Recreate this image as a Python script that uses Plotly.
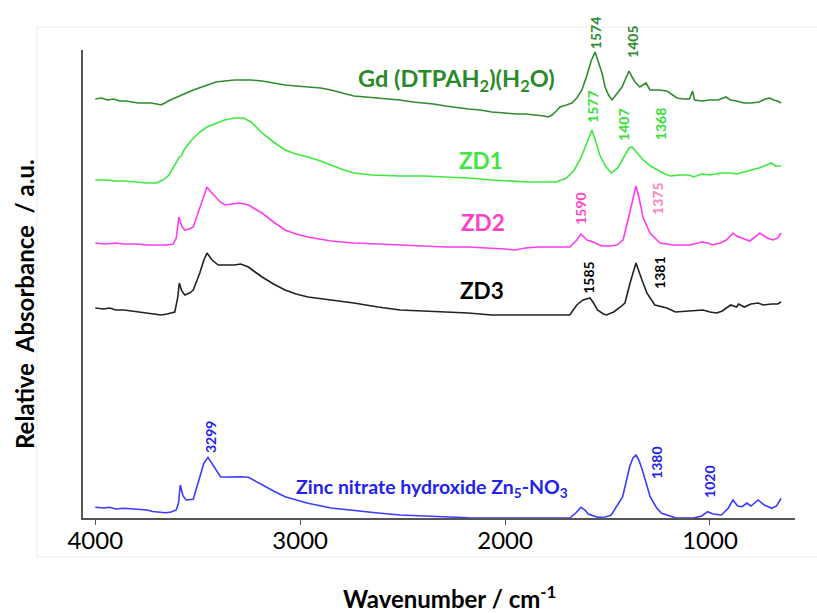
import plotly.graph_objects as go

# ---------------- data (wavenumber in cm-1, relative absorbance in a.u., offsets included) -------------
gd_wn = [4000, 3970, 3940, 3910, 3880, 3850, 3820, 3790, 3760, 3730, 3700, 3680, 3660, 3635, 3600, 3560,
         3522, 3480, 3440, 3410, 3370, 3321, 3280, 3240, 3186, 3130, 3074, 3020, 2962, 2900, 2850, 2800,
         2738, 2680, 2620, 2560, 2513, 2450, 2400, 2350, 2289, 2230, 2180, 2120, 2065, 2000, 1950, 1900,
         1841, 1810, 1790, 1771, 1750, 1732, 1700, 1674, 1650, 1625, 1600, 1580, 1561, 1545, 1527, 1512,
         1495, 1478, 1455, 1429, 1410, 1395, 1380, 1366, 1342, 1312, 1293, 1250, 1210, 1161, 1130, 1100,
         1085, 1075, 1040, 1000, 960, 940, 922, 900, 870, 834, 800, 760, 730, 709, 690, 670, 653]
gd_ab = [4.19, 4.20, 4.18, 4.19, 4.17, 4.17, 4.16, 4.15, 4.15, 4.15, 4.14, 4.13, 4.15, 4.18, 4.21, 4.25,
         4.28, 4.31, 4.34, 4.36, 4.37, 4.38, 4.38, 4.38, 4.37, 4.35, 4.33, 4.32, 4.31, 4.30, 4.28, 4.25,
         4.22, 4.21, 4.20, 4.19, 4.18, 4.16, 4.15, 4.14, 4.12, 4.10, 4.09, 4.08, 4.06, 4.05, 4.04, 4.04,
         4.03, 4.02, 4.01, 4.03, 4.07, 4.11, 4.13, 4.15, 4.20, 4.28, 4.43, 4.57, 4.66, 4.56, 4.45, 4.31,
         4.23, 4.18, 4.24, 4.31, 4.40, 4.47, 4.41, 4.36, 4.31, 4.35, 4.28, 4.28, 4.27, 4.20, 4.19, 4.19,
         4.27, 4.18, 4.17, 4.18, 4.18, 4.20, 4.21, 4.18, 4.17, 4.15, 4.15, 4.16, 4.19, 4.20, 4.18, 4.17, 4.15]

zd1_wn = [4000, 3950, 3900, 3859, 3800, 3750, 3702, 3670, 3640, 3615, 3600, 3590, 3580, 3567, 3530, 3490,
          3455, 3410, 3370, 3321, 3276, 3240, 3186, 3130, 3074, 3020, 2962, 2900, 2850, 2800, 2738, 2650,
          2513, 2400, 2289, 2180, 2065, 1970, 1886, 1800, 1751, 1700, 1662, 1630, 1600, 1576, 1555, 1538,
          1510, 1482, 1450, 1420, 1395, 1381, 1360, 1325, 1290, 1258, 1220, 1191, 1150, 1101, 1080, 1040,
          1000, 944, 900, 870, 832, 790, 760, 723, 700, 680, 653]
zd1_ab = [3.38, 3.38, 3.37, 3.37, 3.36, 3.35, 3.35, 3.38, 3.43, 3.52, 3.58, 3.61, 3.62, 3.68, 3.78, 3.86,
          3.91, 3.95, 3.98, 4.00, 4.00, 3.96, 3.85, 3.76, 3.68, 3.64, 3.61, 3.57, 3.53, 3.49, 3.45, 3.43,
          3.42, 3.42, 3.41, 3.40, 3.38, 3.37, 3.36, 3.36, 3.36, 3.40, 3.48, 3.60, 3.75, 3.88, 3.75, 3.63,
          3.52, 3.45, 3.50, 3.61, 3.70, 3.71, 3.66, 3.58, 3.52, 3.48, 3.44, 3.42, 3.43, 3.43, 3.41, 3.44,
          3.43, 3.45, 3.45, 3.44, 3.46, 3.48, 3.50, 3.53, 3.55, 3.52, 3.52]

zd2_wn = [4000, 3950, 3900, 3859, 3800, 3750, 3702, 3650, 3620, 3605, 3592, 3578, 3563, 3540, 3522, 3490,
          3470, 3455, 3435, 3410, 3390, 3366, 3330, 3298, 3270, 3253, 3220, 3186, 3130, 3074, 3020, 2962,
          2850, 2738, 2620, 2513, 2400, 2289, 2180, 2065, 2000, 1953, 1900, 1841, 1760, 1684, 1650, 1630,
          1600, 1571, 1527, 1490, 1454, 1424, 1400, 1376, 1361, 1347, 1327, 1293, 1244, 1181, 1098, 1040,
          1010, 989, 950, 920, 887, 870, 845, 806, 780, 757, 720, 693, 670, 653]
zd2_ab = [2.75, 2.74, 2.75, 2.74, 2.74, 2.73, 2.73, 2.73, 2.74, 2.80, 3.01, 2.92, 2.88, 2.89, 2.91, 3.10,
          3.24, 3.31, 3.26, 3.21, 3.16, 3.13, 3.14, 3.15, 3.14, 3.13, 3.09, 3.05, 2.96, 2.88, 2.84, 2.81,
          2.77, 2.75, 2.74, 2.73, 2.72, 2.71, 2.71, 2.70, 2.69, 2.68, 2.70, 2.71, 2.71, 2.71, 2.78, 2.84,
          2.78, 2.76, 2.72, 2.72, 2.73, 2.78, 2.98, 3.21, 3.32, 3.21, 3.01, 2.85, 2.75, 2.73, 2.73, 2.76,
          2.75, 2.73, 2.75, 2.78, 2.85, 2.82, 2.80, 2.77, 2.81, 2.85, 2.80, 2.78, 2.80, 2.85]

zd3_wn = [4000, 3960, 3930, 3900, 3859, 3820, 3780, 3740, 3700, 3679, 3650, 3625, 3612, 3598, 3590, 3578,
          3563, 3540, 3522, 3490, 3470, 3455, 3430, 3400, 3360, 3321, 3290, 3253, 3220, 3186, 3130, 3074,
          3020, 2962, 2850, 2738, 2620, 2513, 2400, 2289, 2180, 2065, 1950, 1850, 1760, 1684, 1650, 1620,
          1586, 1571, 1549, 1520, 1505, 1470, 1437, 1415, 1390, 1361, 1332, 1308, 1269, 1210, 1169, 1100,
          1034, 1000, 967, 940, 899, 870, 860, 832, 800, 765, 740, 700, 670, 653]
zd3_ab = [2.10, 2.09, 2.10, 2.08, 2.08, 2.07, 2.06, 2.05, 2.04, 2.03, 2.04, 2.05, 2.06, 2.20, 2.35, 2.27,
          2.23, 2.25, 2.28, 2.45, 2.58, 2.65, 2.58, 2.53, 2.53, 2.53, 2.54, 2.51, 2.46, 2.41, 2.34, 2.28,
          2.24, 2.21, 2.18, 2.15, 2.11, 2.08, 2.07, 2.06, 2.05, 2.03, 2.03, 2.03, 2.03, 2.03, 2.13, 2.18,
          2.20, 2.16, 2.08, 2.04, 2.03, 2.06, 2.11, 2.15, 2.35, 2.55, 2.38, 2.25, 2.13, 2.10, 2.06, 2.07,
          2.08, 2.06, 2.05, 2.07, 2.13, 2.11, 2.14, 2.11, 2.14, 2.15, 2.13, 2.14, 2.14, 2.16]

zn_wn = [4000, 3960, 3930, 3900, 3859, 3820, 3790, 3747, 3720, 3690, 3657, 3630, 3605, 3594, 3585, 3572,
         3556, 3522, 3490, 3470, 3450, 3430, 3410, 3388, 3360, 3321, 3290, 3253, 3220, 3186, 3130, 3074,
         3020, 2962, 2850, 2738, 2620, 2513, 2400, 2289, 2180, 2065, 1900, 1780, 1684, 1655, 1630, 1610,
         1594, 1549, 1510, 1482, 1426, 1392, 1376, 1361, 1347, 1330, 1292, 1260, 1236, 1169, 1079, 1040,
         1012, 985, 944, 910, 888, 865, 843, 820, 800, 765, 735, 698, 675, 653]
zn_ab = [0.107, 0.10, 0.107, 0.09, 0.097, 0.09, 0.085, 0.08, 0.065, 0.06, 0.053, 0.06, 0.08, 0.15, 0.33, 0.22,
         0.18, 0.187, 0.40, 0.55, 0.607, 0.54, 0.48, 0.41, 0.41, 0.413, 0.413, 0.407, 0.37, 0.33, 0.27, 0.213,
         0.18, 0.147, 0.10, 0.073, 0.05, 0.03, 0.02, 0.007, 0.003, 0.0, 0.0, 0.0, 0.0, 0.05, 0.107, 0.08,
         0.04, 0.007, 0.01, 0.03, 0.213, 0.513, 0.60, 0.63, 0.58, 0.48, 0.213, 0.10, 0.047, 0.003, 0.0, 0.02,
         0.063, 0.04, 0.03, 0.10, 0.18, 0.12, 0.113, 0.15, 0.12, 0.18, 0.13, 0.097, 0.12, 0.197]

x_ticks = [4000, 3000, 2000, 1000]

series_names = ["Gd (DTPAH<sub>2</sub>)(H<sub>2</sub>O)", "ZD1", "ZD2", "ZD3",
                "Zinc nitrate hydroxide Zn<sub>5</sub>-NO<sub>3</sub>"]
peak_labels = ["1574", "1405", "1577", "1407", "1368", "1590", "1375", "1585", "1381", "3299", "1380", "1020"]

# ---------------- figure ----------------
C_GD, C_ZD1, C_ZD2, C_ZD3, C_ZN = "#2e8b2e", "#3ee83e", "#ff3cf0", "#222222", "#3b3bff"
FONT = "Lato"
X_RANGE = [4060, 585]

fig = go.Figure()
for wn, ab, col in [(gd_wn, gd_ab, C_GD), (zd1_wn, zd1_ab, C_ZD1), (zd2_wn, zd2_ab, C_ZD2),
                    (zd3_wn, zd3_ab, C_ZD3), (zn_wn, zn_ab, C_ZN)]:
    fig.add_trace(go.Scatter(x=wn, y=ab, mode="lines", line=dict(color=col, width=1.6),
                             showlegend=False, hoverinfo="skip"))
# empty trace to carry the tick-mark overlay axis
fig.add_trace(go.Scatter(x=[], y=[], xaxis="x2", showlegend=False, hoverinfo="skip"))

# series names
name_pos = [(2236, 4.38, "#2a8a2a", 23.5), (2117, 3.58, C_ZD1, 22.5), (2107, 2.96, "#ff40c8", 22.5),
            (2112, 2.28, "#000000", 22.5), (2357, 0.30, "#2222ee", 19.5)]
for (x, y, col, sz), txt in zip(name_pos, series_names):
    fig.add_annotation(x=x, y=y, text="<b>" + txt + "</b>", showarrow=False,
                       xanchor="center", yanchor="middle",
                       font=dict(family=FONT, size=sz, color=col))

# peak labels (rotated); (x, y, yref, colour)
peak_pos = [(1561, 1.036, "paper", C_GD), (1381, 1.017, "paper", C_GD),
            (1576, 4.11, "y", "#33e033"), (1425, 3.93, "y", "#33e033"), (1243, 3.94, "y", "#33e033"),
            (1635, 3.09, "y", "#ff44cc"), (1259, 3.19, "y", "#ff80bf"),
            (1596, 2.40, "y", "#000000"), (1249, 2.45, "y", "#000000"),
            (3440, 0.81, "y", "#2222ee"), (1264, 0.55, "y", "#2222ee"), (1005, 0.36, "y", "#2222ee")]
for (x, y, yr, col), txt in zip(peak_pos, peak_labels):
    fig.add_annotation(x=x, y=y, yref=yr, text="<b>" + txt + "</b>", textangle=-90, showarrow=False,
                       xanchor="center", yanchor="middle",
                       font=dict(family=FONT, size=14, color=col))

# axis titles
fig.add_annotation(xref="paper", yref="paper", x=0.515, y=-0.169, xanchor="center", yanchor="middle",
                   text="<b>Wavenumber / cm<sup>-1</sup></b>", showarrow=False,
                   font=dict(family=FONT, size=24, color="#000000"))
fig.add_annotation(xref="paper", yref="paper", x=-0.083, y=0.457, xanchor="center", yanchor="middle",
                   text="<b>Relative  Absorbance  / a.u.</b>", textangle=-90, showarrow=False,
                   font=dict(family=FONT, size=24, color="#000000"))

# faint outer frame
fig.add_shape(type="rect", xref="paper", yref="paper", x0=-0.0646, x1=1.04, y0=-0.083, y1=1.049,
              line=dict(color="#ececec", width=1), fillcolor="rgba(0,0,0,0)", layer="below")

fig.update_layout(
    width=817, height=613,
    margin=dict(l=83, r=22, t=50, b=95),
    plot_bgcolor="white", paper_bgcolor="white",
    font=dict(family=FONT, color="#000000"),
    xaxis=dict(range=X_RANGE, tickvals=x_ticks, ticktext=[str(v) for v in x_ticks],
               showgrid=False, zeroline=False, showline=True, linecolor="#555555", linewidth=1.5,
               ticks="", tickfont=dict(family=FONT, size=24)),
    xaxis2=dict(range=X_RANGE, overlaying="x", anchor="y", side="bottom", tickvals=x_ticks,
                showticklabels=False, showgrid=False, zeroline=False, showline=False,
                ticks="outside", ticklen=6, tickwidth=1.2, tickcolor="#555555"),
    yaxis=dict(range=[0, 4.68], showticklabels=False, showgrid=False, zeroline=False,
               showline=True, linecolor="#555555", linewidth=1.5, ticks=""),
)

fig.write_html("out.html")
